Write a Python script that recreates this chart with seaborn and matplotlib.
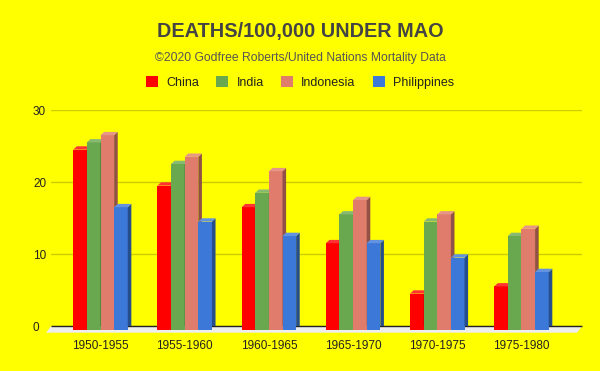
import matplotlib
matplotlib.use("Agg")
import matplotlib.pyplot as plt
import numpy as np
import pandas as pd
import seaborn as sns
from matplotlib.patches import Patch, Polygon

periods = ['1950-1955', '1955-1960', '1960-1965', '1965-1970', '1970-1975', '1975-1980']
countries = ['China', 'India', 'Indonesia', 'Philippines']
china = [25, 20, 17, 12, 5, 6]
india = [26, 23, 19, 16, 15, 13]
indonesia = [27, 24, 22, 18, 16, 14]
philippines = [17, 15, 13, 12, 10, 8]
colors = ['#FF0000', '#6AA84F', '#E07C6B', '#3C78D8']

df = pd.DataFrame({'period': periods * 4,
                   'country': np.repeat(countries, len(periods)),
                   'deaths': china + india + indonesia + philippines})

sns.set_style('white')
plt.rcParams['font.family'] = ['Liberation Sans', 'DejaVu Sans']

W, H = 600, 371
ax_left, ax_right, ax_bottom, ax_top = 51, 582, 326.3, 110.3

fig = plt.figure(figsize=(6, 3.71), dpi=100)
fig.patch.set_facecolor('#FFFF00')
ax = fig.add_axes([ax_left / W, 1 - ax_bottom / H,
                   (ax_right - ax_left) / W, (ax_bottom - ax_top) / H])
ax.set_facecolor('#FFFF00')

sns.barplot(data=df, x='period', y='deaths', hue='country', hue_order=countries,
            palette=colors, width=0.647, gap=0, saturation=1, legend=False,
            linewidth=0, ax=ax)

ax.set_ylim(0, 30)
ax.set_xlim(-0.588, 5.719)
ax.set_yticks([0, 10, 20, 30])
ax.grid(axis='y', color='#CCCC00', linewidth=1)
ax.grid(axis='x', visible=False)
ax.set_axisbelow(True)
for s in ax.spines.values():
    s.set_visible(False)
ax.set_xlabel('')
ax.set_ylabel('')
ax.tick_params(axis='both', length=0, labelsize=8.5, colors='#222222')
ax.tick_params(axis='x', pad=10)
ax.tick_params(axis='y', pad=13)
for lab in ax.get_yticklabels():
    lab.set_ha('left')

# pseudo 3d depth, pixel sizes turned into data units
px_x = 6.307 / (ax_right - ax_left)
px_y = 30 / (ax_bottom - ax_top)
dx = 3.6 * px_x
dy = 3.3 * px_y

def shade(c, f):
    r = np.array(matplotlib.colors.to_rgb(c))
    if f > 1:
        return tuple(r + (1 - r) * (f - 1))
    return tuple(r * f)

bars = list(ax.patches)
for i, p in enumerate(bars):
    k = i // len(periods)
    x0 = p.get_x()
    x1 = x0 + p.get_width()
    h = p.get_height()
    # front face sits a little lower than the back wall
    p.set_y(-dy)
    p.set_clip_on(False)
    p.set_zorder(5 + 3 * k)
    side = Polygon([(x1, -dy), (x1 + dx, 0), (x1 + dx, h), (x1, h - dy)],
                   closed=True, facecolor=shade(colors[k], 0.65), linewidth=0,
                   zorder=6 + 3 * k)
    cap = Polygon([(x0, h - dy), (x0 + dx, h), (x1 + dx, h), (x1, h - dy)],
                  closed=True, facecolor=shade(colors[k], 1.2), linewidth=0,
                  zorder=6 + 3 * k)
    ax.add_patch(side)
    ax.add_patch(cap)

# floor under the bars
xl, xr = ax.get_xlim()
fx, fy = 5 * px_x, 6.4 * px_y
floor = Polygon([(xl, 0), (xr, 0), (xr - fx, -fy), (xl - fx, -fy)], closed=True,
                facecolor='#EEEEEE', edgecolor='none', clip_on=False, zorder=2)
ax.add_patch(floor)
ax.plot([xl, xr], [0, 0], color='#222222', linewidth=1.0, zorder=3,
        solid_capstyle='butt', clip_on=False)

fig.text(0.5, 1 - 37.3 / H, 'DEATHS/100,000 UNDER MAO', ha='center', va='baseline',
         fontsize=14.3, fontweight='bold', color='#444444')
fig.text(0.5, 1 - 60.5 / H, '\u00a92020 Godfree Roberts/United Nations Mortality Data',
         ha='center', va='baseline', fontsize=8.75, color='#555555')

handles = [Patch(facecolor=c, edgecolor='none') for c in colors]
fig.legend(handles, countries, loc='center', bbox_to_anchor=(0.5, 1 - 82.3 / H),
           ncol=4, frameon=False, fontsize=9, handlelength=0.96, handleheight=0.96,
           handletextpad=0.68, columnspacing=1.36, labelcolor='#222222',
           borderpad=0, borderaxespad=0)

fig.savefig('out.png', dpi=100, facecolor=fig.get_facecolor())
